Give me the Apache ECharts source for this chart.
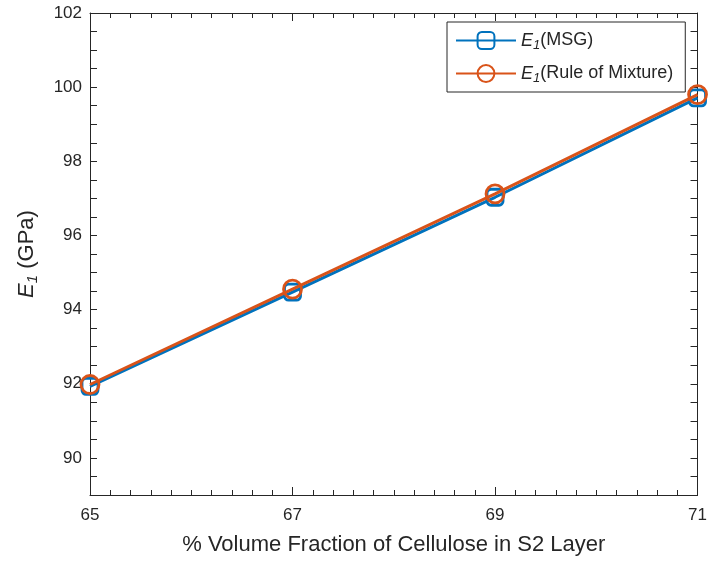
<!DOCTYPE html>
<html><head><meta charset="utf-8">
<script src="https://cdn.jsdelivr.net/npm/echarts@6/dist/echarts.min.js"></script>
<style>html,body{margin:0;padding:0;background:#fff}#c{width:710px;height:561px}</style>
</head><body><div id="c"></div>
<script>
const xValues = [65, 67, 69, 71];
const msgValues = [91.93, 94.47, 97.03, 99.71];
const romValues = [91.98, 94.55, 97.12, 99.80];
const xTicks = [65, 67, 69, 71];
const yTicks = [90, 92, 94, 96, 98, 100, 102];

const FONT = 'Liberation Sans, Arial, sans-serif';
const AX = '#262626';
const rich = {
  i: {fontStyle: 'italic', fontSize: 22, color: AX, fontFamily: FONT, lineHeight: 26},
  s: {fontStyle: 'italic', fontSize: 15, color: AX, fontFamily: FONT, padding: [12, 0, 0, 0], lineHeight: 26},
  n: {fontSize: 22, color: AX, fontFamily: FONT, lineHeight: 26}
};
const lrich = {
  i: {fontStyle: 'italic', fontSize: 18, color: AX, fontFamily: FONT, lineHeight: 22},
  s: {fontStyle: 'italic', fontSize: 13, color: AX, fontFamily: FONT, padding: [10, 0, 0, 0], lineHeight: 22},
  n: {fontSize: 18, color: AX, fontFamily: FONT, lineHeight: 22}
};
const tickStyle = {show: true, inside: true, length: 8, lineStyle: {color: AX}};
const chart = echarts.init(document.getElementById('c'));
chart.setOption({
  backgroundColor: '#fff',
  animation: false,
  grid: {left: 90, right: 12, top: 13, bottom: 65},
  legend: {
    orient: 'vertical', left: 447, top: 22,
    backgroundColor: '#fff', borderColor: AX, borderWidth: 1,
    padding: [7, 12, 7, 8], itemGap: 10, itemWidth: 60, itemHeight: 21,
    textStyle: {rich: lrich},
    formatter: function (n) { return n === 'MSG' ? '{i|E}{s|1}{n|(MSG)}' : '{i|E}{s|1}{n|(Rule of Mixture)}'; },
    data: ['MSG', 'ROM']
  },
  xAxis: [
    {
      type: 'value', min: 65, max: 71, interval: 2, position: 'bottom',
      axisLine: {show: true, onZero: false, lineStyle: {color: AX}},
      axisTick: tickStyle,
      minorTick: {show: true, splitNumber: 10, length: 5, lineStyle: {color: AX}},
      splitLine: {show: false},
      axisLabel: {color: AX, fontSize: 17, fontFamily: FONT, margin: 12, customValues: xTicks},
      name: '% Volume Fraction of Cellulose in S2 Layer', nameLocation: 'middle', nameGap: 39,
      nameTextStyle: {color: AX, fontSize: 22, fontFamily: FONT}
    },
    {
      type: 'value', min: 65, max: 71, interval: 2, position: 'top',
      axisLine: {show: true, onZero: false, lineStyle: {color: AX}},
      axisTick: tickStyle,
      minorTick: {show: true, splitNumber: 10, length: 5, lineStyle: {color: AX}},
      splitLine: {show: false},
      axisLabel: {show: false}
    }
  ],
  yAxis: [
    {
      type: 'value', min: 89, max: 102, interval: 0.5, position: 'left',
      axisLine: {show: true, onZero: false, lineStyle: {color: AX}},
      axisTick: {show: true, inside: true, length: 7, lineStyle: {color: AX}},
      splitLine: {show: false},
      axisLabel: {color: AX, fontSize: 17, fontFamily: FONT, margin: 8, customValues: yTicks},
      name: '{i|E}{s|1}{n| (GPa)}', nameLocation: 'middle', nameGap: 50, nameRotate: 90,
      nameTextStyle: {rich: rich}
    },
    {
      type: 'value', min: 89, max: 102, interval: 0.5, position: 'right',
      axisLine: {show: true, onZero: false, lineStyle: {color: AX}},
      axisTick: {show: true, inside: true, length: 7, lineStyle: {color: AX}},
      splitLine: {show: false},
      axisLabel: {show: false}
    }
  ],
  series: [
    {
      name: 'MSG', type: 'line', xAxisIndex: 0, yAxisIndex: 0,
      data: xValues.map((x, i) => [x, msgValues[i]]),
      symbol: 'roundRect', symbolSize: 16,
      lineStyle: {color: '#0072BD', width: 3},
      itemStyle: {color: 'rgba(255,255,255,0)', borderColor: '#0072BD', borderWidth: 2.8},
      z: 2
    },
    {
      name: 'ROM', type: 'line', xAxisIndex: 0, yAxisIndex: 0,
      data: xValues.map((x, i) => [x, romValues[i]]),
      symbol: 'circle', symbolSize: 18,
      lineStyle: {color: '#D95319', width: 3},
      itemStyle: {color: 'rgba(255,255,255,0)', borderColor: '#D95319', borderWidth: 2.8},
      z: 3
    }
  ]
});
</script></body></html>
